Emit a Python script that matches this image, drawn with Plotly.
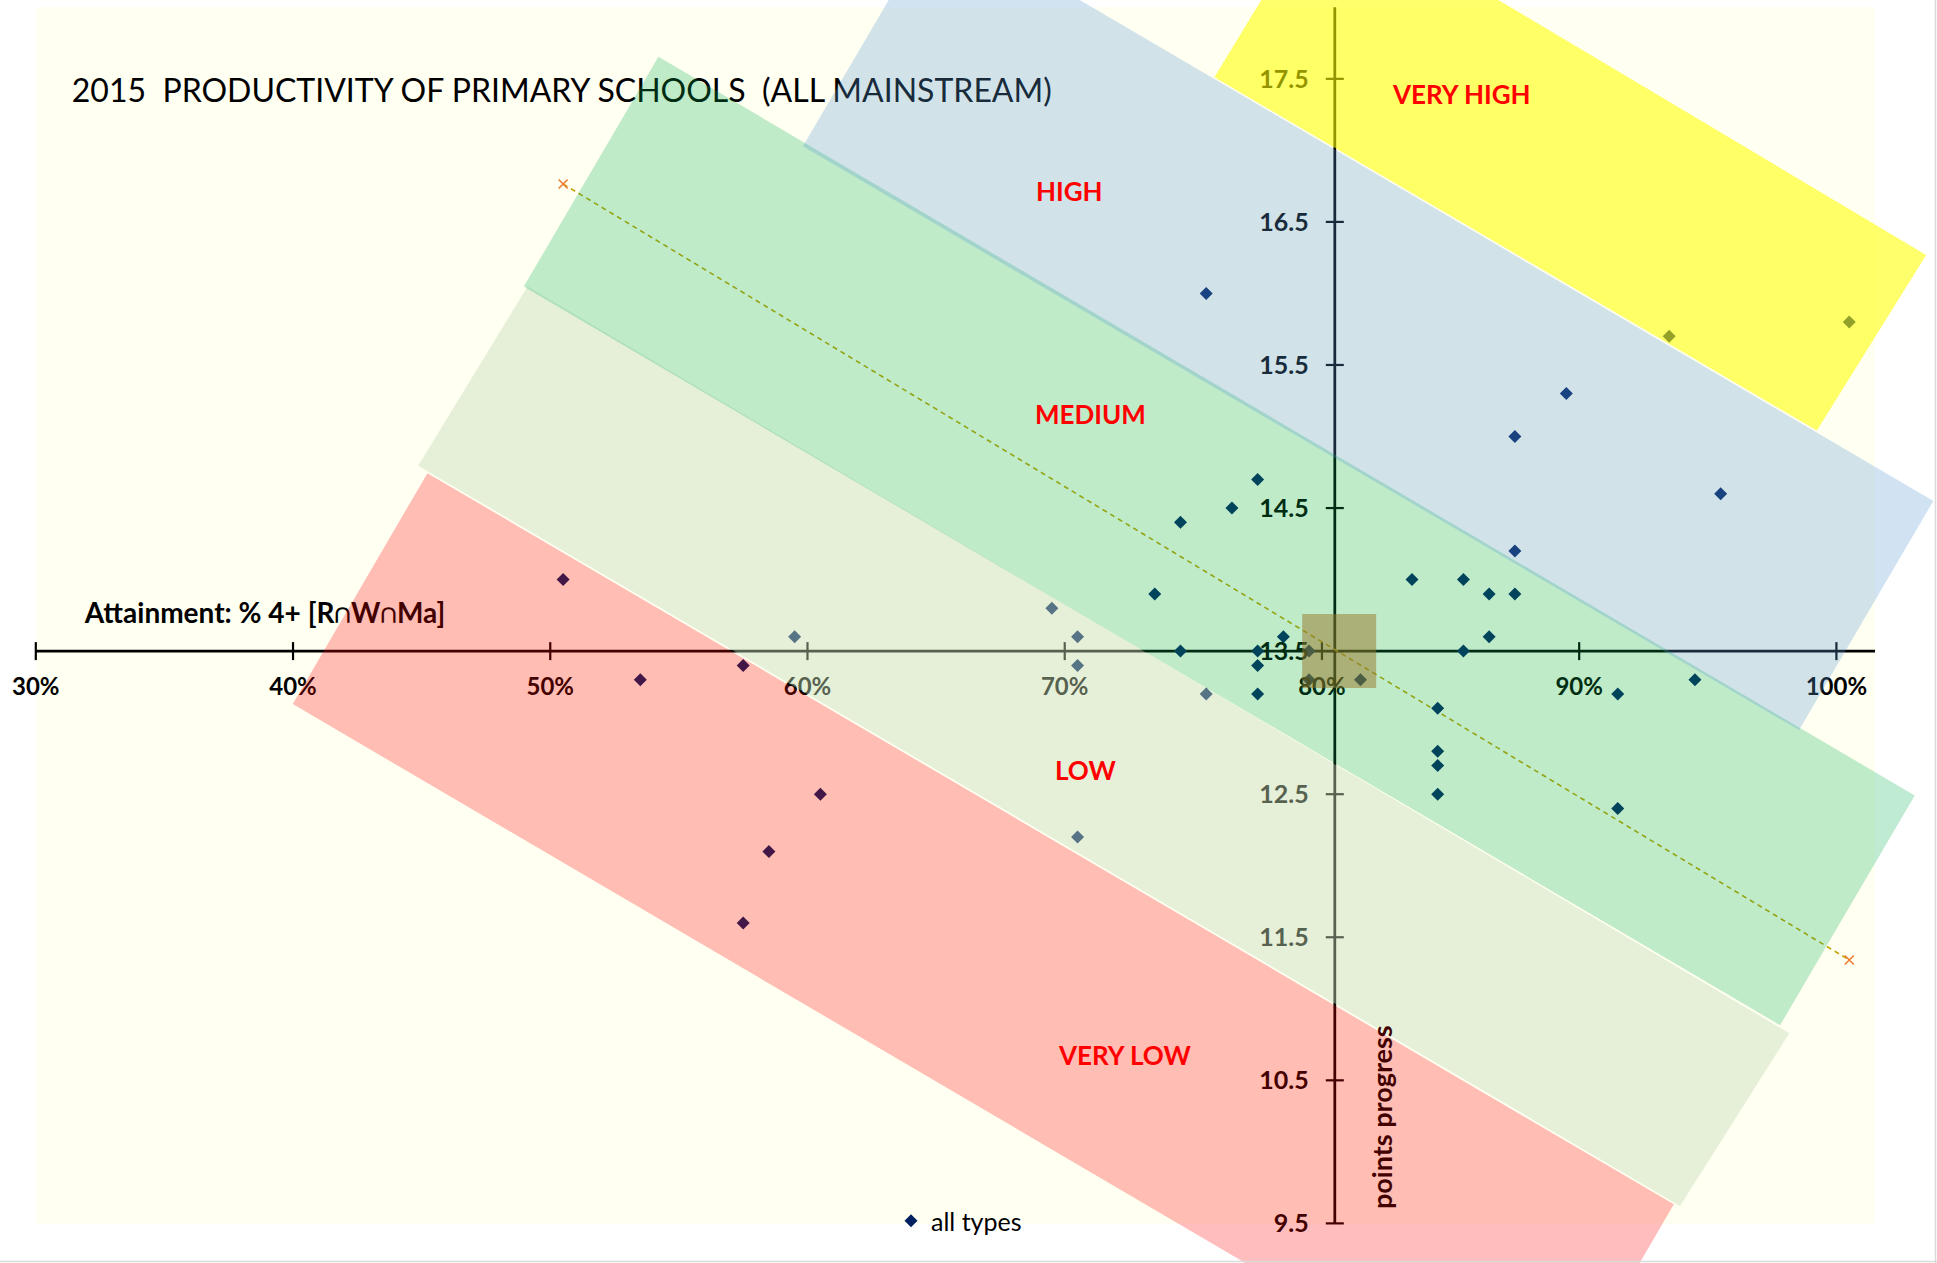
import plotly.graph_objects as go

# ---------------- data ----------------
attainment = [50.5, 53.5, 57.5, 59.5, 60.5, 58.5, 57.5, 69.5, 70.5, 70.5, 70.5,
              73.5, 74.5, 74.5, 75.5, 75.5, 76.5, 77.5, 77.5, 77.5, 77.5, 78.5,
              79.5, 79.5, 81.5, 83.5, 84.5, 84.5, 84.5, 84.5, 85.5, 85.5, 86.5,
              86.5, 87.5, 87.5, 87.5, 89.5, 91.5, 91.5, 93.5, 94.5, 95.5, 100.5]
progress = [14.0, 13.3, 13.4, 13.6, 12.5, 12.1, 11.6, 13.8, 13.6, 13.4, 12.2,
            13.9, 14.4, 13.5, 16.0, 13.2, 14.5, 14.7, 13.5, 13.4, 13.2, 13.6,
            13.5, 13.3, 13.3, 14.0, 13.1, 12.8, 12.7, 12.5, 14.0, 13.5, 13.9,
            13.6, 13.9, 14.2, 15.0, 15.3, 13.2, 12.4, 15.7, 13.3, 14.6, 15.8]

trend_x = [50.5, 100.5]
trend_y = [16.765, 11.341]

avg_x = [80.67]
avg_y = [13.50]

x_ticks = [30, 40, 50, 60, 70, 80, 90, 100]
x_tick_labels = ["30%", "40%", "50%", "60%", "70%", "80%", "90%", "100%"]
y_ticks = [9.5, 10.5, 11.5, 12.5, 13.5, 14.5, 15.5, 16.5, 17.5]
y_tick_labels = ["9.5", "10.5", "11.5", "12.5", "13.5", "14.5", "15.5", "16.5", "17.5"]

# band corners (attainment %, points progress)
vhigh_x = [80.09, 103.49, 99.24, 75.82]
vhigh_y = [18.776, 16.269, 15.042, 17.511]
high_x = [65.06, 103.77, 98.55, 59.82]
high_y = [18.634, 14.550, 12.948, 17.028]
medium_x = [54.205, 103.045, 97.81, 48.97]
medium_y = [17.654, 12.491, 10.885, 16.048]
low_x = [49.115, 98.17, 93.92, 44.864]
low_y = [16.048, 10.829, 9.622, 14.796]
vlow_x = [45.225, 93.68, 88.446, 39.99]
vlow_y = [14.744, 9.633, 8.018, 13.130]

# ---------------- scale / layout helpers ----------------
W, H = 1937, 1263
X0_PX, X_PER = 35.8, 25.723     # pixel of 30 %, pixels per percent
Y0_PX, Y_PER = 7.3, 143.07      # pixel of 18.0, pixels per point
XR = [30 - X0_PX / X_PER, 30 + (W - X0_PX) / X_PER]
YR = [18 - (H - Y0_PX) / Y_PER, 18 + Y0_PX / Y_PER]


def px_x(p):
    return p / X_PER


def px_y(p):
    return p / Y_PER


X_MIN, X_MAX = 30, 101.5
Y_MIN, Y_MAX = 9.5, 18.0
X_CROSS = 13.5      # x axis drawn at this progress value
Y_CROSS = 80.5      # y axis drawn at this attainment value

FONT = "Lato, 'DejaVu Sans', sans-serif"
NAVY = "#002060"

fig = go.Figure()

# axis lines
fig.add_trace(go.Scatter(x=[X_MIN, X_MAX, None, Y_CROSS, Y_CROSS],
                         y=[X_CROSS, X_CROSS, None, Y_MIN, Y_MAX],
                         mode="lines", line=dict(color="black", width=2.75),
                         hoverinfo="skip", showlegend=False))
# tick marks (crossing the axis)
tx, ty = [], []
for v in x_ticks:
    tx += [v, v, None]
    ty += [X_CROSS - px_y(9), X_CROSS + px_y(9), None]
for v in y_ticks:
    tx += [Y_CROSS - px_x(9), Y_CROSS + px_x(9), None]
    ty += [v, v, None]
fig.add_trace(go.Scatter(x=tx, y=ty, mode="lines",
                         line=dict(color="black", width=2.2),
                         hoverinfo="skip", showlegend=False))

# trend line
fig.add_trace(go.Scatter(x=trend_x, y=trend_y, mode="lines",
                         line=dict(color="#C4A000", width=1.6, dash="5px,4px"),
                         hoverinfo="skip", showlegend=False))
fig.add_trace(go.Scatter(x=trend_x, y=trend_y, mode="markers",
                         marker=dict(symbol="x-thin", size=9, color="#ED7D31",
                                     line=dict(color="#ED7D31", width=1.6)),
                         hoverinfo="skip", showlegend=False))

# schools
fig.add_trace(go.Scatter(x=attainment, y=progress, mode="markers",
                         name="all types",
                         marker=dict(symbol="diamond", size=10, color=NAVY,
                                     line=dict(width=0))))

# tick labels
fig.add_trace(go.Scatter(x=x_ticks, y=[X_CROSS - px_y(37.9)] * len(x_ticks),
                         text=x_tick_labels, mode="text",
                         textposition="middle center",
                         textfont=dict(family=FONT, size=24, color="black",
                                       weight="bold"),
                         hoverinfo="skip", showlegend=False))
fig.add_trace(go.Scatter(x=[Y_CROSS - px_x(26)] * len(y_ticks),
                         y=[v - px_y(2.7) for v in y_ticks],
                         text=y_tick_labels, mode="text",
                         textposition="middle left",
                         textfont=dict(family=FONT, size=25, color="black",
                                       weight="bold"),
                         hoverinfo="skip", showlegend=False))
# x axis title
fig.add_trace(go.Scatter(x=[X_MIN + px_x(49)], y=[X_CROSS + px_y(35)],
                         text=["Attainment: % 4+ [R\u2229W\u2229Ma]"], mode="text",
                         textposition="middle right",
                         textfont=dict(family=FONT, size=28, color="black",
                                       weight="bold"),
                         hoverinfo="skip", showlegend=False))
# chart title
fig.add_trace(go.Scatter(x=[X_MIN + px_x(36)], y=[Y_MAX - px_y(87)],
                         text=["2015\u00a0 PRODUCTIVITY OF PRIMARY SCHOOLS\u00a0 (ALL MAINSTREAM)"],
                         mode="text", textposition="middle right",
                         textfont=dict(family=FONT, size=32, color="black"),
                         hoverinfo="skip", showlegend=False))

# translucent productivity bands (drawn over everything above)
bands = [
    (vlow_x, vlow_y, "rgba(255,0,0,0.26)"),
    (low_x, low_y, "rgba(198,221,183,0.44)"),
    (medium_x, medium_y, "rgba(0,176,80,0.25)"),
    (high_x, high_y, "rgba(91,155,213,0.28)"),
    (vhigh_x, vhigh_y, "rgba(255,255,0,0.58)"),
]
for bx, by, col in bands:
    fig.add_trace(go.Scatter(x=bx + [bx[0]], y=by + [by[0]], mode="none",
                             fill="toself", fillcolor=col,
                             hoverinfo="skip", showlegend=False))

# average square
fig.add_trace(go.Scatter(x=avg_x, y=avg_y, mode="markers",
                         marker=dict(symbol="square", size=74,
                                     color="rgba(149,117,39,0.5)",
                                     line=dict(width=0)),
                         hoverinfo="skip", showlegend=False))

# band labels
band_labels = [("VERY HIGH", 85.44, 17.394), ("HIGH", 70.20, 16.713),
               ("MEDIUM", 71.01, 15.154), ("LOW", 70.82, 12.672),
               ("VERY LOW", 72.31, 10.678)]
for txt, lx, ly in band_labels:
    fig.add_annotation(x=lx, y=ly, text=txt, showarrow=False,
                       xanchor="center", yanchor="middle",
                       font=dict(family=FONT, size=26, color="#FF0000",
                                 weight="bold"))

# y axis title
fig.add_annotation(x=82.53 - px_x(5), y=10.244, text="points progress",
                   showarrow=False, textangle=-90, xanchor="center",
                   yanchor="middle",
                   font=dict(family=FONT, size=27, color="#430000",
                             weight="bold"))

# plot area background and chart border
fig.add_shape(type="rect", xref="x", yref="y", x0=X_MIN, x1=X_MAX,
              y0=Y_MIN, y1=Y_MAX, fillcolor="#FFFFF2", line=dict(width=0),
              layer="below")
fig.add_shape(type="line", xref="paper", yref="paper", x0=0, x1=1,
              y0=1.5 / H, y1=1.5 / H, line=dict(color="#D9D9D9", width=1.5))
fig.add_shape(type="line", xref="paper", yref="paper", x0=1 - 1.5 / W,
              x1=1 - 1.5 / W, y0=0, y1=1, line=dict(color="#D9D9D9", width=1.5))

fig.update_layout(
    width=W, height=H, margin=dict(l=0, r=0, t=0, b=0),
    paper_bgcolor="white", plot_bgcolor="white",
    xaxis=dict(range=XR, visible=False, fixedrange=True),
    yaxis=dict(range=YR, visible=False, fixedrange=True),
    showlegend=True,
    legend=dict(x=891 / W, y=1 - 1221 / H, xanchor="left", yanchor="middle",
                bgcolor="rgba(0,0,0,0)",
                font=dict(family=FONT, size=25, color="black")),
)

fig.write_html("out.html", config={"displayModeBar": False},
               post_script="document.body.style.margin='0';"
                           "document.body.style.overflow='hidden';")
